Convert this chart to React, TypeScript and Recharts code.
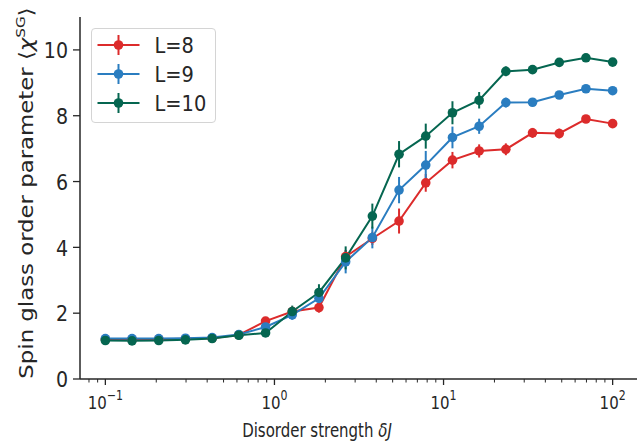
import React from 'react';
import { LineChart, Line, XAxis, YAxis, ErrorBar, Legend, Label } from 'recharts';

const deltaJ = [0.1, 0.1438, 0.2069, 0.2976, 0.4281, 0.6158, 0.8859, 1.274, 1.833, 2.637, 3.793, 5.456, 7.848, 11.29, 16.24, 23.36, 33.6, 48.33, 69.52, 100];
const chiL8 = [1.2, 1.2, 1.21, 1.22, 1.24, 1.34, 1.76, 2.05, 2.17, 3.72, 4.27, 4.8, 5.96, 6.65, 6.93, 6.98, 7.48, 7.46, 7.9, 7.76];
const chiL9 = [1.23, 1.23, 1.23, 1.24, 1.26, 1.35, 1.58, 1.95, 2.45, 3.56, 4.3, 5.74, 6.5, 7.34, 7.68, 8.4, 8.41, 8.63, 8.82, 8.76];
const chiL10 = [1.17, 1.16, 1.17, 1.19, 1.23, 1.33, 1.4, 2.05, 2.63, 3.68, 4.95, 6.83, 7.38, 8.09, 8.47, 9.35, 9.4, 9.62, 9.76, 9.63];
const errL8 = [0.04, 0.04, 0.04, 0.04, 0.04, 0.05, 0.1, 0.12, 0.15, 0.2, 0.2, 0.38, 0.27, 0.25, 0.2, 0.18, 0.15, 0.15, 0.08, 0.06];
const errL9 = [0.04, 0.04, 0.04, 0.04, 0.04, 0.05, 0.1, 0.15, 0.2, 0.35, 0.33, 0.4, 0.43, 0.33, 0.23, 0.15, 0.12, 0.08, 0.06, 0.05];
const errL10 = [0.04, 0.04, 0.04, 0.04, 0.04, 0.05, 0.08, 0.18, 0.25, 0.35, 0.38, 0.4, 0.38, 0.35, 0.25, 0.15, 0.12, 0.08, 0.06, 0.05];

const seriesNames = ['L=8', 'L=9', 'L=10'];
const majorTicks = [0.1, 1, 10, 100];
const minorTicks = [0.08, 0.09, 0.2, 0.3, 0.4, 0.5, 0.6, 0.7, 0.8, 0.9, 2, 3, 4, 5, 6, 7, 8, 9, 20, 30, 40, 50, 60, 70, 80, 90];
const yTicks = [0, 2, 4, 6, 8, 10];

const RED = '#dc2b2b';
const BLUE = '#2a7dc0';
const GREEN = '#056650';
const AXIS = '#262626';
const TXT = '#262626';
const FONT = '"DejaVu Sans", sans-serif';

const data = deltaJ.map((x, i) => ({
  x,
  l8: chiL8[i], e8: errL8[i],
  l9: chiL9[i], e9: errL9[i],
  l10: chiL10[i], e10: errL10[i],
}));

const XTick = (props: any) => {
  const { x, y, payload } = props;
  const v = payload.value;
  const major = majorTicks.includes(v);
  const exp = Math.round(Math.log10(v));
  const expStr = exp < 0 ? '\u2212' + Math.abs(exp) : String(exp);
  return (
    <g>
      <line x1={x} x2={x} y1={y} y2={y + (major ? 6 : 3.5)} stroke={AXIS} strokeWidth={major ? 1.3 : 1} />
      {major && (
        <g transform={`translate(${x},${y + 29.5}) scale(1,1.22)`}>
          <text x={0} y={0} textAnchor="middle" fontSize={15} fontFamily={FONT} fill={TXT}>
            10<tspan dy={-7} fontSize={11}>{expStr}</tspan>
          </text>
        </g>
      )}
    </g>
  );
};

const YTick = (props: any) => {
  const { x, y, payload } = props;
  return (
    <g>
      <line x1={x - 7} x2={x} y1={y} y2={y} stroke={AXIS} strokeWidth={1.3} />
      <g transform={`translate(${x - 12},${y + 8.3}) scale(1,1.16)`}>
        <text x={0} y={0} textAnchor="end" fontSize={19} fontFamily={FONT} fill={TXT}>
          {payload.value}
        </text>
      </g>
    </g>
  );
};

const XLabel = () => (
  <g transform="translate(317,436.5) scale(1,1.3)">
    <text x={0} y={0} textAnchor="middle" fontSize={15} fontFamily={FONT} fill={TXT}>
      Disorder strength <tspan fontStyle="italic">δJ</tspan>
    </text>
  </g>
);

const YLabel = () => (
  <g transform="translate(33,193) rotate(-90) scale(1.17,1)">
    <text x={0} y={0} textAnchor="middle" fontSize={19.5} fontFamily={FONT} fill={TXT}>
      Spin glass order parameter ⟨<tspan fontStyle="italic">χ</tspan>
      <tspan dy={-8} fontSize={13}>SG</tspan>
      <tspan dy={8}>⟩</tspan>
    </text>
  </g>
);

const LegendBox = (props: any) => {
  const payload = [...(props.payload || [])].sort(
    (a: any, b: any) => seriesNames.indexOf(a.value) - seriesNames.indexOf(b.value)
  );
  return (
    <div
      style={{
        boxSizing: 'border-box',
        width: 125,
        height: 95,
        border: '1px solid #d4d4d4',
        borderRadius: 4,
        background: 'rgba(255,255,255,0.85)',
      }}
    >
      <svg width={123} height={93} style={{ display: 'block' }}>
        {payload.map((p: any, i: number) => {
          const cy = 16 + i * 29;
          return (
            <g key={i}>
              <line x1={5.5} x2={47.5} y1={cy} y2={cy} stroke={p.color} strokeWidth={2} />
              <line x1={26.5} x2={26.5} y1={cy - 10} y2={cy + 10} stroke={p.color} strokeWidth={2} />
              <circle cx={26.5} cy={cy} r={4.8} fill={p.color} />
              <g transform={`translate(62.5,${cy + 7.7}) scale(1,1.13)`}>
                <text x={0} y={0} fontSize={19.4} fontFamily={FONT} fill={TXT}>
                  {p.value}
                </text>
              </g>
            </g>
          );
        })}
      </svg>
    </div>
  );
};

export default function App() {
  return (
    <div style={{ position: 'absolute', left: 0, top: 0, width: 637, height: 441, overflow: 'hidden', background: '#fff' }}>
      <LineChart width={660} height={441} data={data} margin={{ top: 17, right: 22, left: 0, bottom: 0 }}>
        <XAxis
          dataKey="x"
          type="number"
          scale="log"
          domain={[Math.pow(10, -1.15), Math.pow(10, 2.15)]}
          allowDataOverflow
          ticks={[...majorTicks, ...minorTicks].sort((a, b) => a - b)}
          interval={0}
          tickSize={0}
          tickMargin={0}
          tick={<XTick />}
          axisLine={{ stroke: AXIS, strokeWidth: 1.5 }}
          height={62}
        >
          <Label content={<XLabel />} />
        </XAxis>
        <YAxis
          type="number"
          domain={[0, 11]}
          ticks={yTicks}
          interval={0}
          tickSize={0}
          tickMargin={0}
          tick={<YTick />}
          axisLine={{ stroke: AXIS, strokeWidth: 1.5 }}
          width={80}
        >
          <Label content={<YLabel />} />
        </YAxis>
        <Legend
          layout="vertical"
          align="center"
          verticalAlign="middle"
          content={<LegendBox />}
          wrapperStyle={{ left: 91, top: 28, width: 125, height: 95 }}
        />
        <Line
          name={seriesNames[0]}
          dataKey="l8"
          stroke={RED}
          strokeWidth={2}
          dot={{ r: 4.8, fill: RED, stroke: RED, strokeWidth: 0 }}
          isAnimationActive={false}
        >
          <ErrorBar dataKey="e8" direction="y" width={0} stroke={RED} strokeWidth={2} isAnimationActive={false} />
        </Line>
        <Line
          name={seriesNames[1]}
          dataKey="l9"
          stroke={BLUE}
          strokeWidth={2}
          dot={{ r: 4.8, fill: BLUE, stroke: BLUE, strokeWidth: 0 }}
          isAnimationActive={false}
        >
          <ErrorBar dataKey="e9" direction="y" width={0} stroke={BLUE} strokeWidth={2} isAnimationActive={false} />
        </Line>
        <Line
          name={seriesNames[2]}
          dataKey="l10"
          stroke={GREEN}
          strokeWidth={2}
          dot={{ r: 4.8, fill: GREEN, stroke: GREEN, strokeWidth: 0 }}
          isAnimationActive={false}
        >
          <ErrorBar dataKey="e10" direction="y" width={0} stroke={GREEN} strokeWidth={2} isAnimationActive={false} />
        </Line>
      </LineChart>
    </div>
  );
}
